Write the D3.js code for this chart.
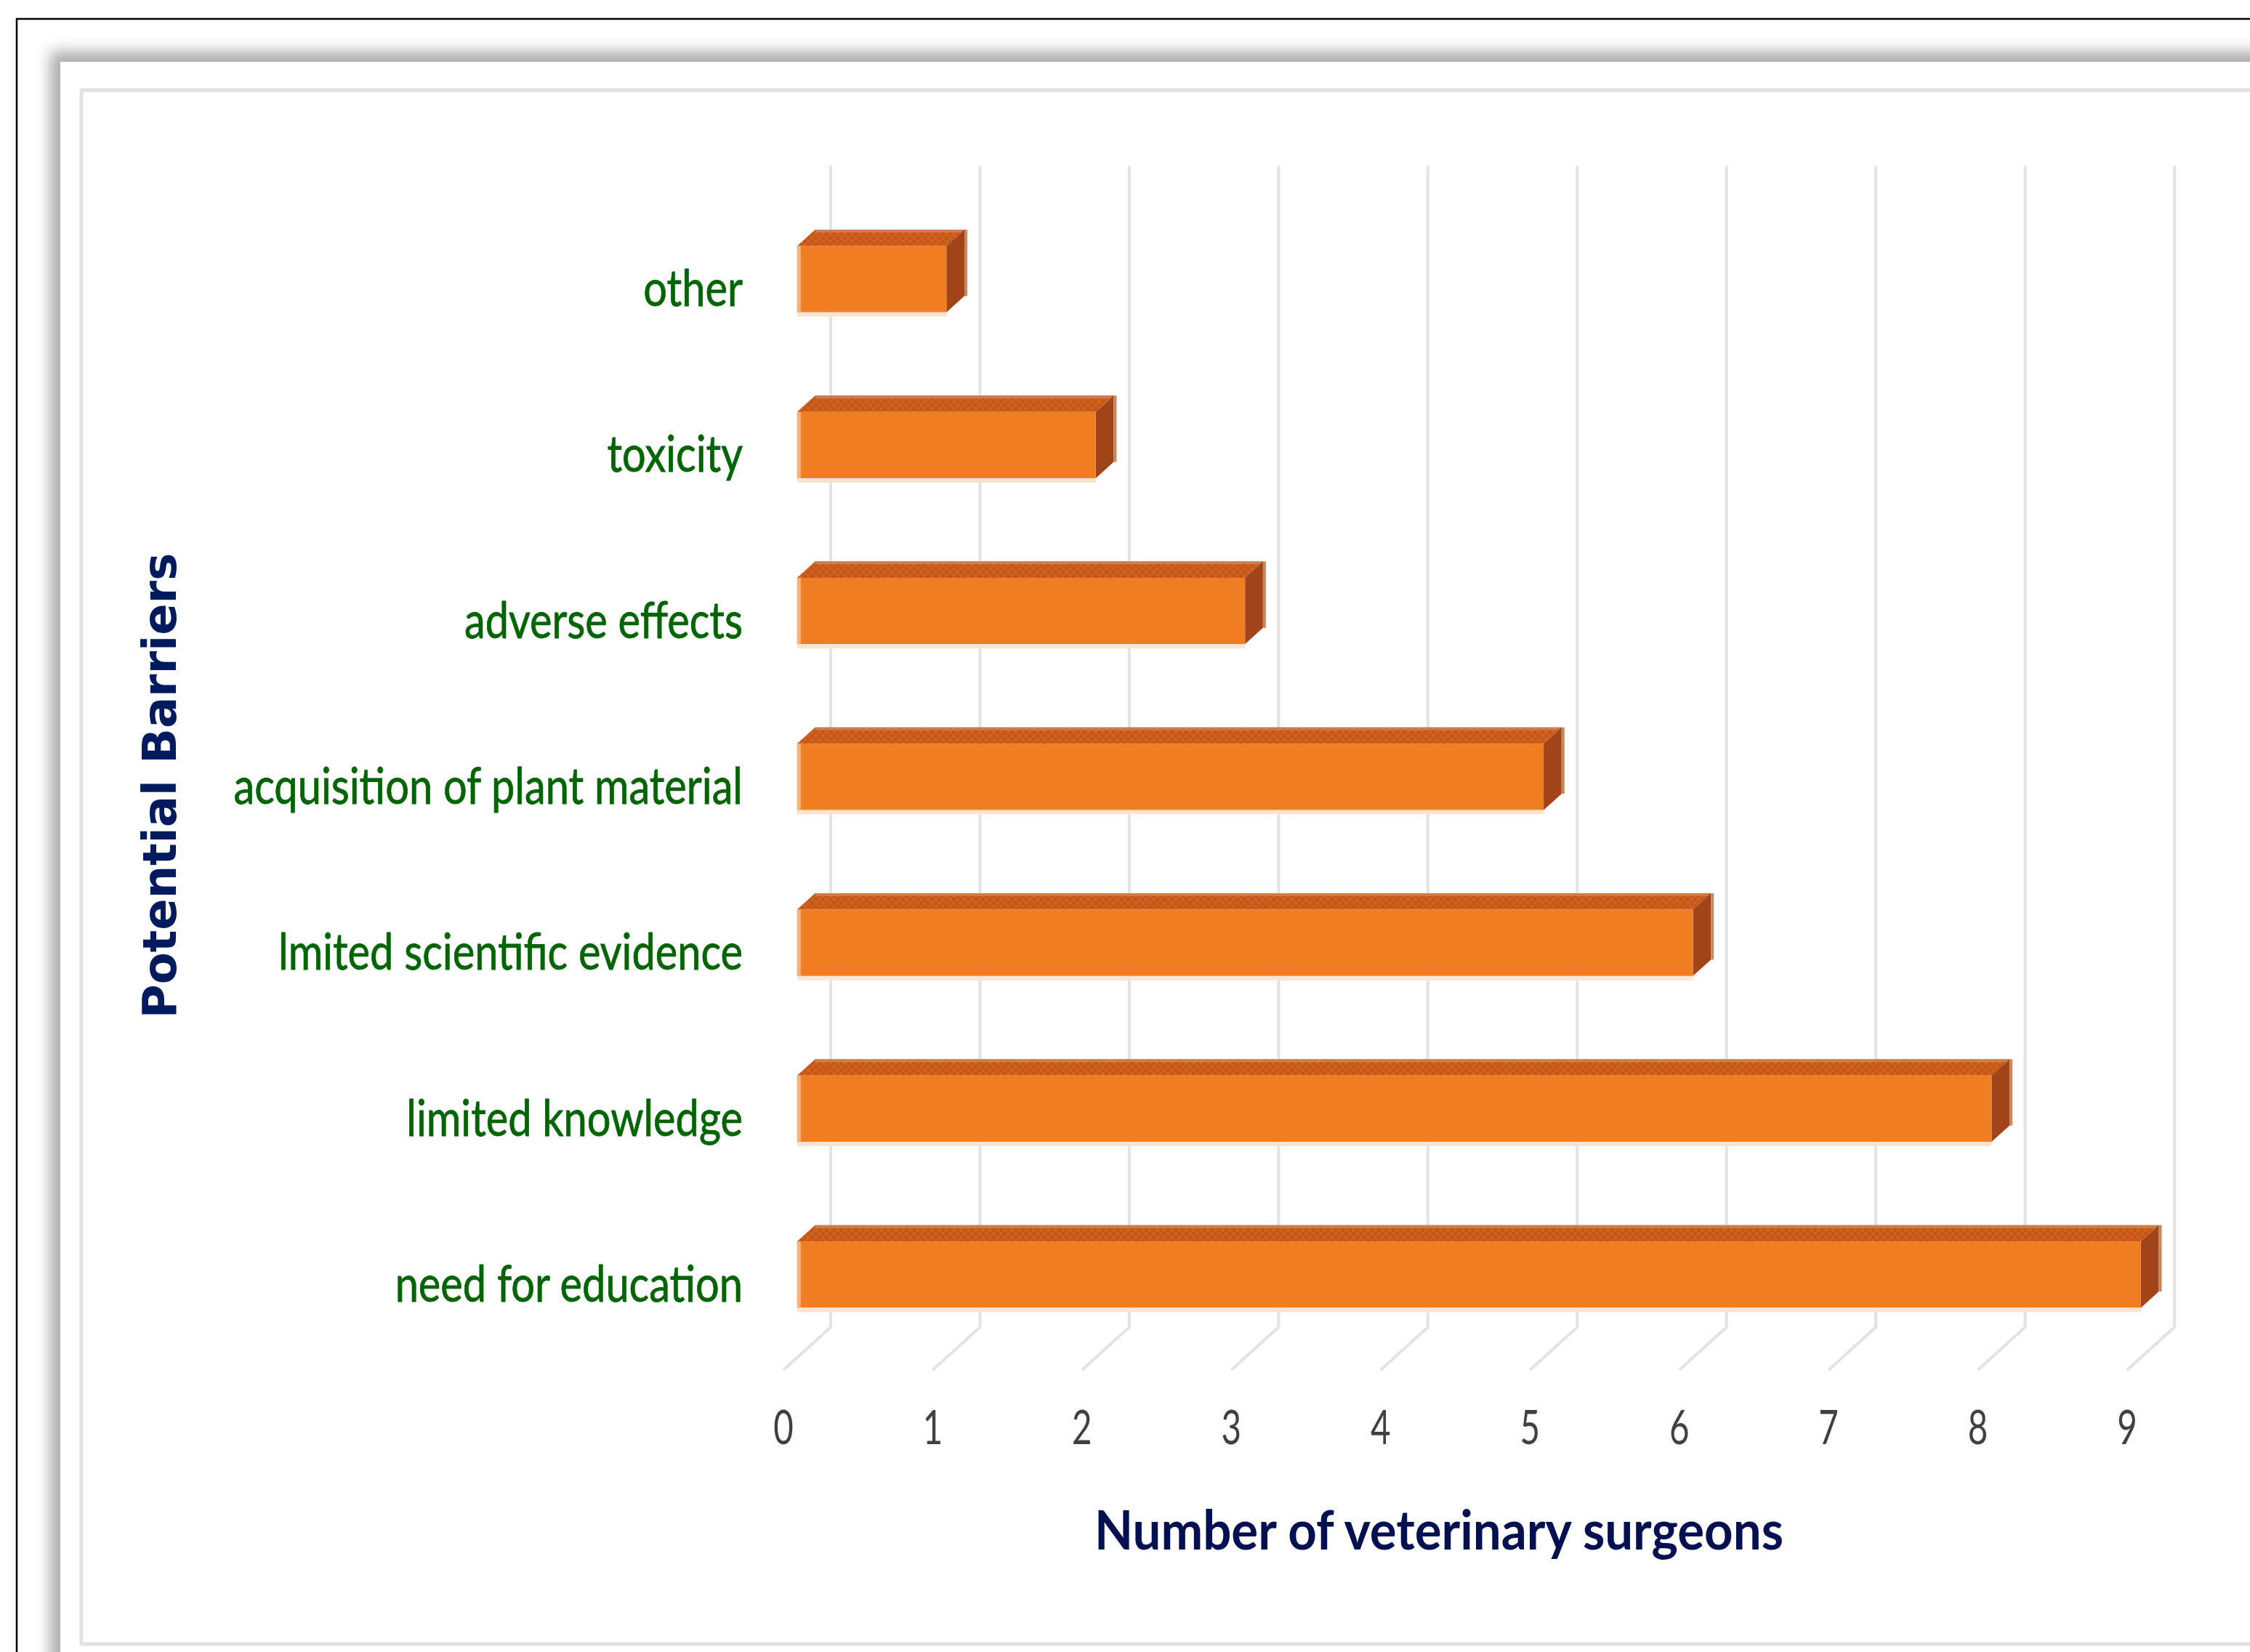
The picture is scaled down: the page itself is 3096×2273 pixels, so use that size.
<!DOCTYPE html>
<html>
<head>
<meta charset="utf-8">
<script src="https://cdn.jsdelivr.net/npm/d3@7"></script>
<style>
  body { margin: 0; background: #fff; }
</style>
</head>
<body>
<div id="chart"></div>
<script>
// barriers, listed top to bottom as they appear
const categories = ["other", "toxicity", "adverse effects", "acquisition of plant material",
    "lmited scientific evidence", "limited knowledge", "need for education"];
const surgeons = [1, 2, 3, 5, 6, 8, 9];
const ticks = [0, 1, 2, 3, 4, 5, 6, 7, 8, 9];
const xTitle = "Number of veterinary surgeons";
const yTitle = "Potential Barriers";

const W = 3096, H = 2273;

var svg = d3.select("#chart")
    .append("svg")
    .attr("width", W)
    .attr("height", H);

var defs = svg.append("defs");

var shadow = defs.append("filter").attr("id", "shadow")
    .attr("x", "-5%").attr("y", "-5%").attr("width", "110%").attr("height", "110%");
shadow.append("feDropShadow")
    .attr("dx", -14).attr("dy", -14)
    .attr("stdDeviation", 10)
    .attr("flood-color", "#000")
    .attr("flood-opacity", 0.33);

// checker texture on the top face of the bars
var checker = defs.append("pattern").attr("id", "checker")
    .attr("width", 10).attr("height", 10)
    .attr("patternUnits", "userSpaceOnUse");
checker.append("rect").attr("width", 10).attr("height", 10).attr("fill", "#c4561a");
checker.append("rect").attr("width", 5).attr("height", 5).attr("fill", "#d0621f");
checker.append("rect").attr("x", 5).attr("y", 5).attr("width", 5).attr("height", 5).attr("fill", "#d0621f");

// frames
svg.append("rect")
    .attr("x", 23).attr("y", 26)
    .attr("width", W).attr("height", H)
    .attr("fill", "#fff")
    .attr("stroke", "#000")
    .attr("stroke-width", 2.5);

svg.append("rect")
    .attr("x", 83).attr("y", 85)
    .attr("width", W + 100).attr("height", H + 100)
    .attr("fill", "#fff")
    .attr("filter", "url(#shadow)");

svg.append("rect")
    .attr("x", 112).attr("y", 124)
    .attr("width", W).attr("height", 2262 - 124)
    .attr("fill", "#fff")
    .attr("stroke", "#e2e2e2")
    .attr("stroke-width", 5);

var x = d3.scaleLinear().domain([0, 9]).range([1143, 2992]);
var y = d3.scaleBand().domain(categories).range([228, 1826])
    .paddingInner(0.6).paddingOuter(0.3);
var bw = y.bandwidth();

// 3d depth of the floor, from back wall to front edge
const depth = [-65, 59];
const back = 0.33, front = 0.71;
function px(v, d) { return x(v) + depth[0] * d; }
function py(yy, d) { return yy + depth[1] * d; }

// gridlines on the back wall, folded down onto the floor
svg.append("g")
    .selectAll("path")
    .data(ticks)
    .join("path")
    .attr("d", t => "M" + x(t) + "," + y.range()[0] + "V" + y.range()[1] +
        "L" + px(t, 1) + "," + py(y.range()[1], 1))
    .attr("fill", "none")
    .attr("stroke", "#e3e3e3")
    .attr("stroke-width", 4);

var data = categories.map((c, i) => ({ c: c, v: surgeons[i] }));

var bars = svg.append("g")
    .selectAll("g")
    .data(data)
    .join("g");

// top face
bars.append("polygon")
    .attr("points", d => {
        var y0 = y(d.c);
        return [[px(0, back), py(y0, back)], [px(d.v, back), py(y0, back)],
                [px(d.v, front), py(y0, front)], [px(0, front), py(y0, front)]].join(" ");
    })
    .attr("fill", "url(#checker)");

bars.append("line")
    .attr("x1", d => px(0, back)).attr("x2", d => px(d.v, back))
    .attr("y1", d => py(y(d.c), back) + 2).attr("y2", d => py(y(d.c), back) + 2)
    .attr("stroke", "#c97e4c")
    .attr("stroke-width", 4);

// end face
bars.append("polygon")
    .attr("points", d => {
        var y0 = y(d.c), y1 = y0 + bw;
        return [[px(d.v, back), py(y0, back)], [px(d.v, front), py(y0, front)],
                [px(d.v, front), py(y1, front)], [px(d.v, back), py(y1, back)]].join(" ");
    })
    .attr("fill", "#a2441a");

bars.append("line")
    .attr("x1", d => px(d.v, back) + 2).attr("x2", d => px(d.v, back) + 2)
    .attr("y1", d => py(y(d.c), back)).attr("y2", d => py(y(d.c) + bw, back))
    .attr("stroke", "#c6885c")
    .attr("stroke-width", 4);

// front face
bars.append("rect")
    .attr("x", d => px(0, front))
    .attr("y", d => py(y(d.c), front))
    .attr("width", d => x(d.v) - x(0))
    .attr("height", bw)
    .attr("fill", "#ef7d22");

bars.append("rect")
    .attr("x", d => px(0, front))
    .attr("y", d => py(y(d.c) + bw, front))
    .attr("width", d => x(d.v) - x(0))
    .attr("height", 6)
    .attr("fill", "#fce4d0");

bars.append("rect")
    .attr("x", d => px(0, front))
    .attr("y", d => py(y(d.c), front))
    .attr("width", 5)
    .attr("height", bw)
    .attr("fill", "#f5b27a");

// tick labels along the front edge of the floor
svg.append("g")
    .selectAll("text")
    .data(ticks)
    .join("text")
    .attr("transform", t => "translate(" + px(t, 1) + ",1987) scale(0.72,1)")
    .attr("text-anchor", "middle")
    .attr("font-family", "Lato")
    .attr("font-size", "66px")
    .attr("fill", "#404040")
    .text(t => t);

// category labels
svg.append("g")
    .selectAll("text")
    .data(categories)
    .join("text")
    .attr("transform", c => "translate(1022," + (py(y(c) + bw / 2, 1) + 20) + ") scale(0.825,1)")
    .attr("text-anchor", "end")
    .attr("font-family", "Lato")
    .attr("font-size", "70px")
    .attr("stroke", "#006400")
    .attr("stroke-width", 0.8)
    .attr("fill", "#006400")
    .text(c => c);

svg.append("text")
    .attr("transform", "translate(1980,2132) scale(0.92,1)")
    .attr("text-anchor", "middle")
    .attr("font-family", "Lato")
    .attr("font-weight", "bold")
    .attr("font-size", "75px")
    .attr("fill", "#001050")
    .text(xTitle);

svg.append("text")
    .attr("transform", "translate(242,1081) rotate(-90)")
    .attr("text-anchor", "middle")
    .attr("font-family", "DejaVu Sans")
    .attr("font-weight", "bold")
    .attr("font-size", "64px")
    .attr("fill", "#001a5e")
    .text(yTitle);
</script>
</body>
</html>
